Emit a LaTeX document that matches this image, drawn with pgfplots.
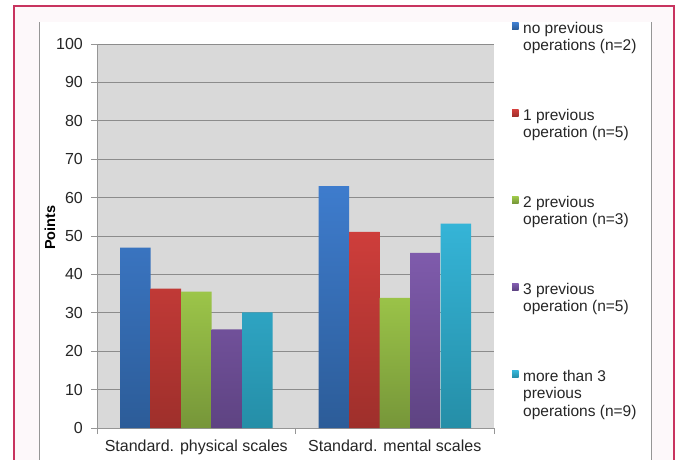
\documentclass[border=0pt]{standalone}
\usepackage{pgfplots}
\pgfplotsset{compat=1.18}
\usepackage{fontspec}
\setmainfont{Liberation Sans}
\definecolor{pinkb}{RGB}{200,52,95}
\definecolor{pinkbg}{RGB}{253,248,250}
\definecolor{plotbg}{RGB}{217,217,217}
\definecolor{gridc}{RGB}{140,140,140}
\definecolor{framec}{RGB}{150,150,150}
\definecolor{bluet}{RGB}{62,124,205}\definecolor{blueb}{RGB}{44,92,152}
\definecolor{redt}{RGB}{206,62,59}\definecolor{redb}{RGB}{158,47,43}
\definecolor{greent}{RGB}{156,197,73}\definecolor{greenb}{RGB}{118,150,57}
\definecolor{purt}{RGB}{127,91,172}\definecolor{purb}{RGB}{94,67,130}
\definecolor{cyant}{RGB}{53,180,215}\definecolor{cyanb}{RGB}{37,142,167}
\newcommand{\lentry}[2]{\parbox[t]{140pt}{\rule{0pt}{12pt}#1\par #2}}
\begin{document}
\begin{tikzpicture}[x=1pt,y=1pt]
\useasboundingbox (0,0) rectangle (677,459);
% outer pink frame
\fill[pinkbg] (14,-5) rectangle (674,453);
\draw[pinkb,line width=1.5pt] (14,-5) -- (14,453) -- (674,453) -- (674,-5);
% inner white panel
\fill[white] (39,-5) rectangle (651,437);
\draw[framec,line width=0.9pt] (39,-5) -- (39,437);
\draw[framec,line width=0.9pt] (651,-5) -- (651,437);
\begin{axis}[
  at={(97pt,31pt)}, anchor=south west,
  scale only axis, width=397pt, height=384pt,
  xmin=-0.5, xmax=1.5, ymin=0, ymax=100,
  ybar=0pt, bar width=30.5pt,
  axis background/.style={fill=plotbg},
  axis x line=bottom, axis y line=left,
  axis line style={draw=framec, line width=0.9pt, -},
  ytick={0,10,...,100},
  ymajorgrids, major grid style={draw=gridc, line width=0.8pt},
  tick align=outside, major tick length=6pt,
  tick style={draw=framec, line width=0.8pt},
  xtick={-0.5,0.5,1.5}, xticklabels={},
  extra x ticks={0,1},
  extra x tick labels={Standard. physical scales, Standard. mental scales},
  extra x tick style={major tick length=0pt, grid=none,
     xticklabel style={anchor=base, inner sep=0pt, yshift=-23.7pt}},
  /pgf/number format/assume math mode=true,
  ticklabel style={font=\fontsize{16}{19}\selectfont, text=black!85},
  yticklabel style={anchor=east, inner sep=0pt, xshift=-8pt},
  ylabel={\textbf{Points}},
  ylabel style={at={(axis description cs:-0.1184,0.522)}, anchor=center,
     font=\fontsize{14.5}{16}\selectfont},
  legend cell align=left,
  legend image code/.code={\path[#1,draw=none] (0.5pt,-1.5pt) rectangle (7pt,5pt);},
  legend style={at={(axis description cs:1.0453,1.06)}, anchor=north west,
     draw=none, fill=none, inner sep=0pt, row sep=73.5pt, column sep=4.5pt,
     nodes={inner sep=0pt}, font=\fontsize{15.5}{17.5}\selectfont, text=black!85},
]
\addplot[draw=none, top color=bluet, bottom color=blueb] coordinates {(0,47) (1,63)};
\addplot[draw=none, top color=redt, bottom color=redb] coordinates {(0,36.3) (1,51.1)};
\addplot[draw=none, top color=greent, bottom color=greenb] coordinates {(0,35.5) (1,33.9)};
\addplot[draw=none, top color=purt, bottom color=purb] coordinates {(0,25.7) (1,45.6)};
\addplot[draw=none, top color=cyant, bottom color=cyanb] coordinates {(0,30.1) (1,53.2)};
\addlegendentry{\lentry{no previous}{operations (n=2)}}
\addlegendentry{\lentry{1 previous}{operation (n=5)}}
\addlegendentry{\lentry{2 previous}{operation (n=3)}}
\addlegendentry{\lentry{3 previous}{operation (n=5)}}
\addlegendentry{\parbox[t]{140pt}{\rule{0pt}{12pt}more than 3\par previous\par operations (n=9)}}
\end{axis}
\end{tikzpicture}
\end{document}
